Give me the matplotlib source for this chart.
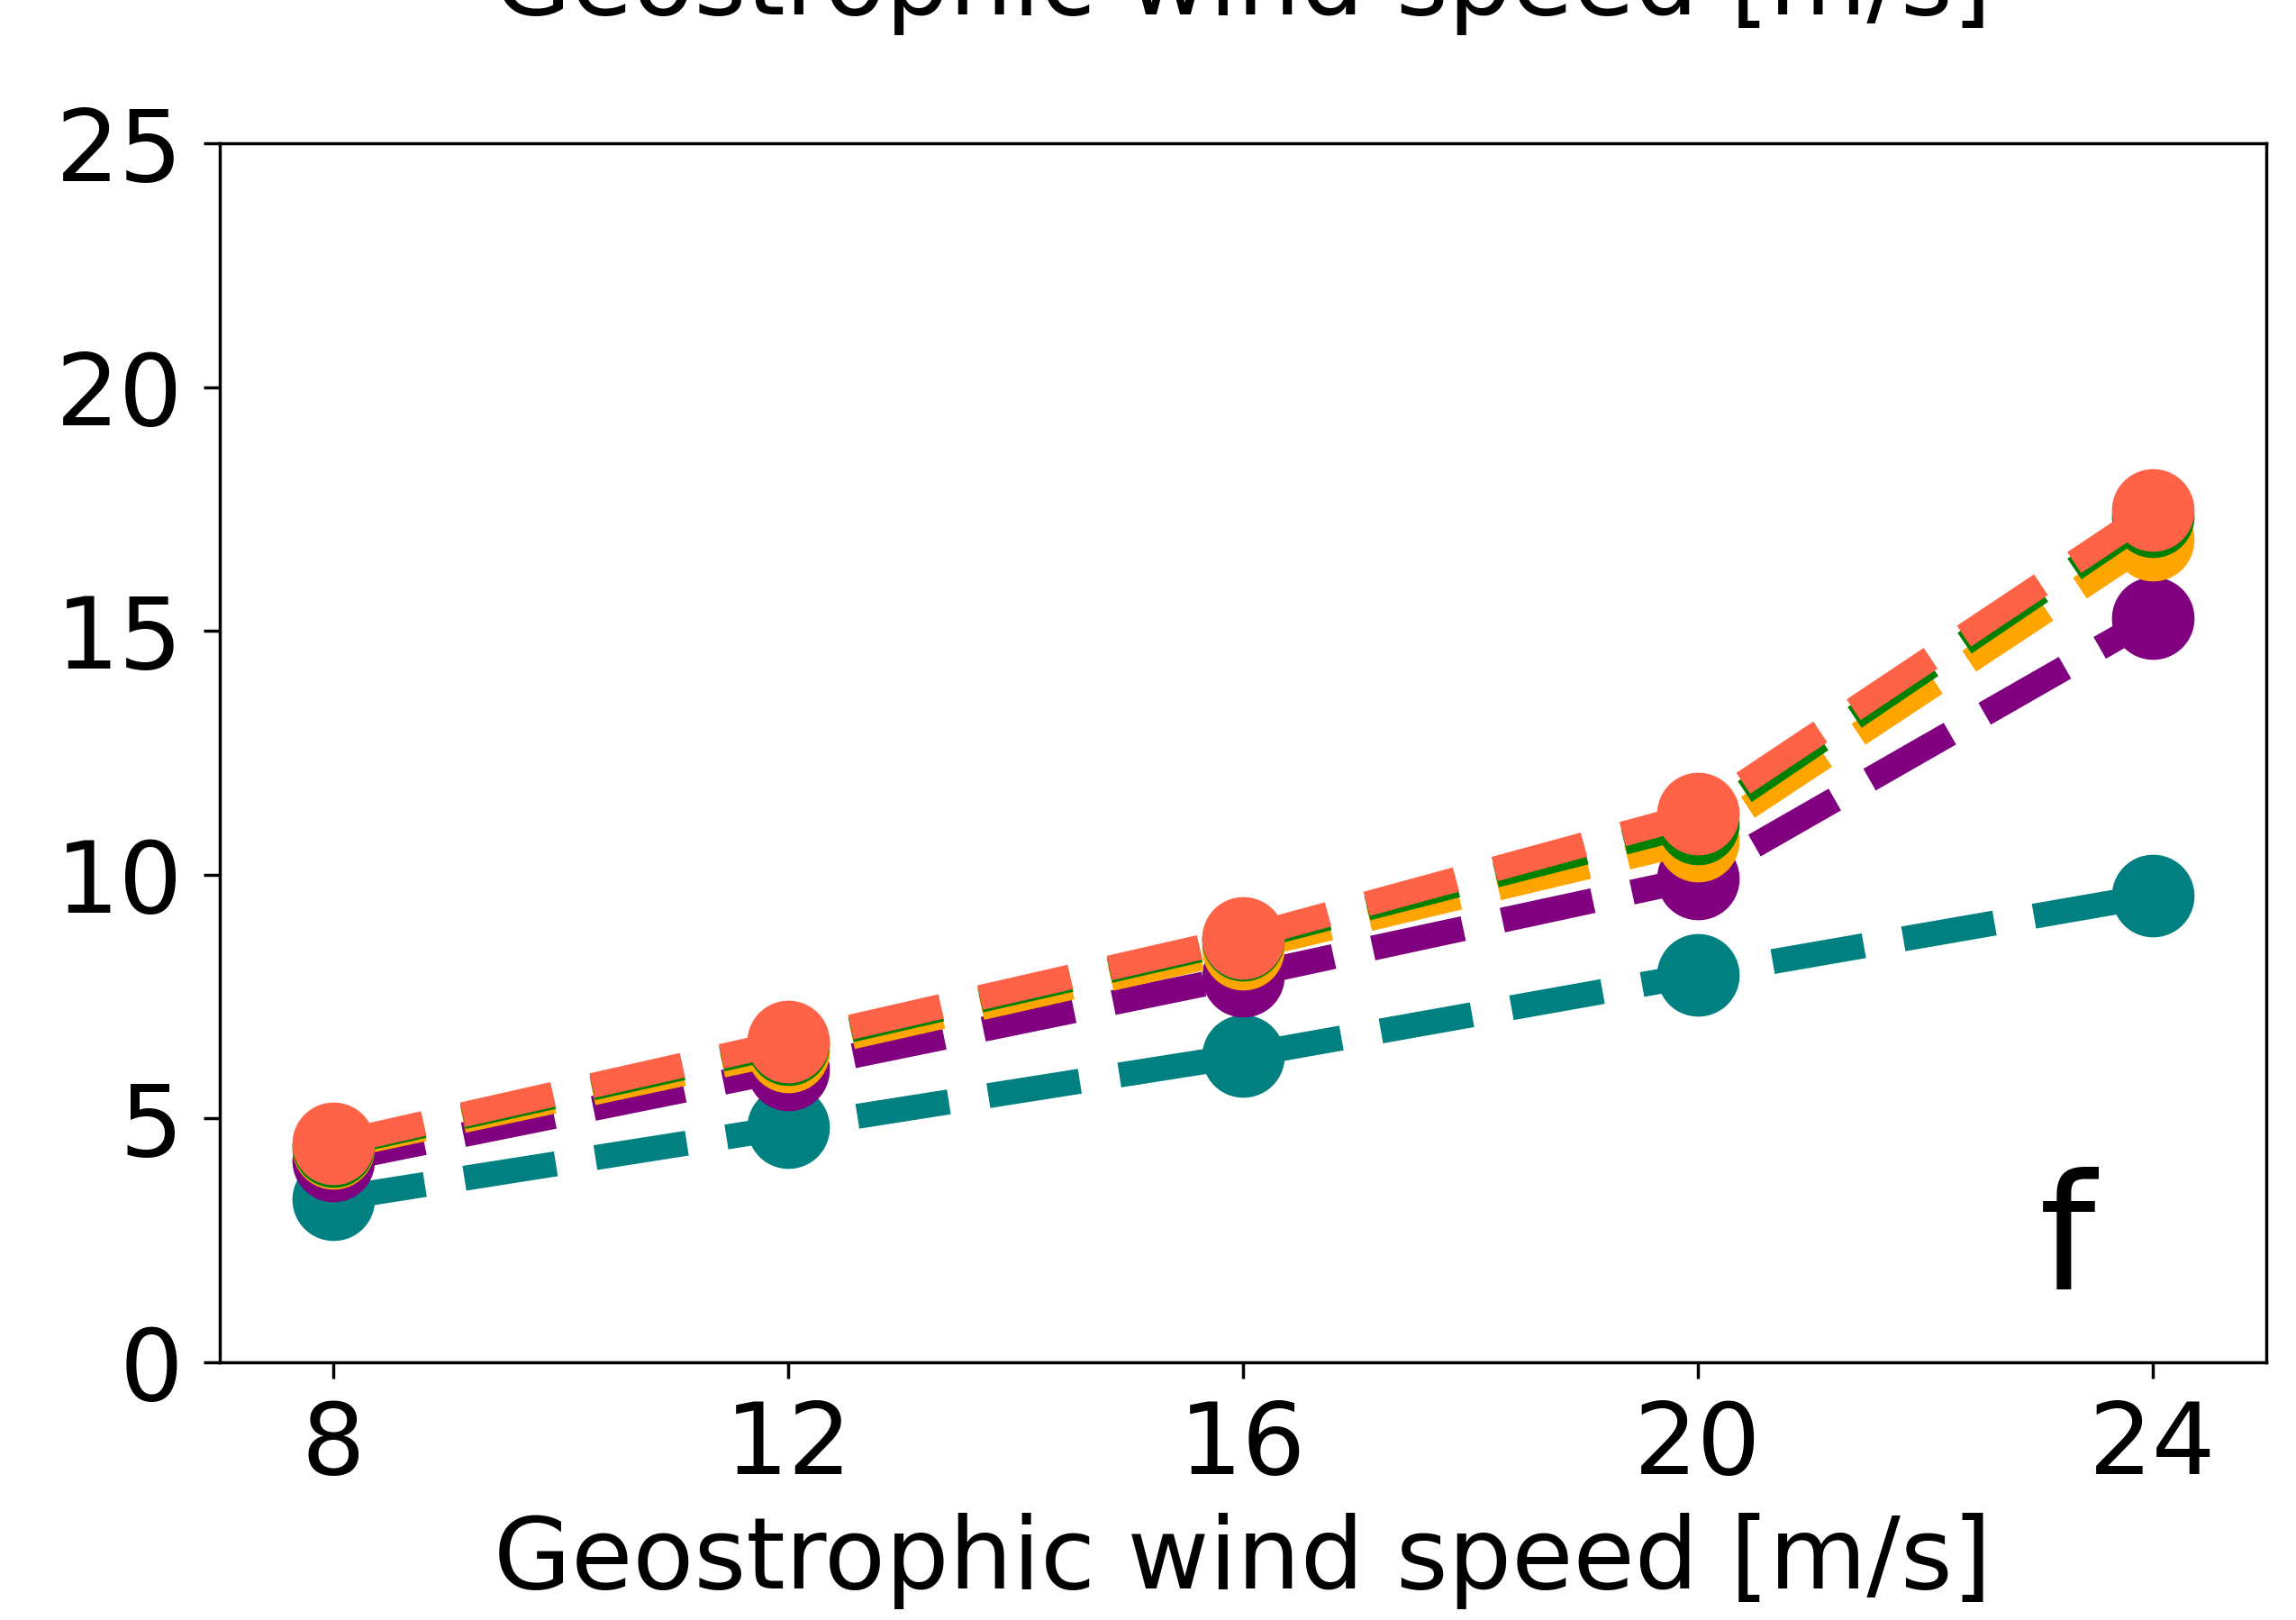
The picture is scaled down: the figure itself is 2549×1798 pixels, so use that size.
import numpy as np
import matplotlib.pyplot as plt

# geostrophic wind speed on the x axis
wind = [8, 12, 16, 20, 24]

# one series per colour, bottom to top
teal = [3.35, 4.82, 6.29, 7.95, 9.57]
purple = [4.13, 6.01, 7.92, 9.93, 15.27]
orange = [4.39, 6.38, 8.48, 10.70, 16.86]
green = [4.44, 6.52, 8.66, 11.05, 17.35]
tomato = [4.48, 6.58, 8.71, 11.25, 17.47]

series = [teal, purple, orange, green, tomato]
colors = ['teal', 'purple', 'orange', 'green', 'tomato']

xticks = [8, 12, 16, 20, 24]
yticks = [0, 5, 10, 15, 20, 25]

plt.close("all")
fig = plt.figure(figsize=(25.49, 17.98), dpi=100)
ax = fig.add_axes([0.0957, 0.1591, 0.8913, 0.7525])

for vals, c in zip(series, colors):
    ax.plot(wind, vals, '--o', color=c, lw=20, ms=65)

ax.set_xlim(7, 25)
ax.set_ylim(0, 25)
ax.set_xticks(xticks)
ax.set_yticks(yticks)
ax.tick_params(labelsize=80, length=13, width=2.5, pad=16)
for s in ax.spines.values():
    s.set_linewidth(2.5)

ax.set_xlabel('Geostrophic wind speed [m/s]', fontsize=80, labelpad=14)
ax.text(0.903, 0.06, 'f', transform=ax.transAxes, fontsize=128,
        ha='center', va='baseline')

# label of the panel above, cut off by the top edge
fig.text(0.5413, 1 - 16 / 1798, 'Geostrophic wind speed [m/s]', fontsize=80,
         ha='center', va='baseline')

fig.savefig('out.png', dpi=100)
